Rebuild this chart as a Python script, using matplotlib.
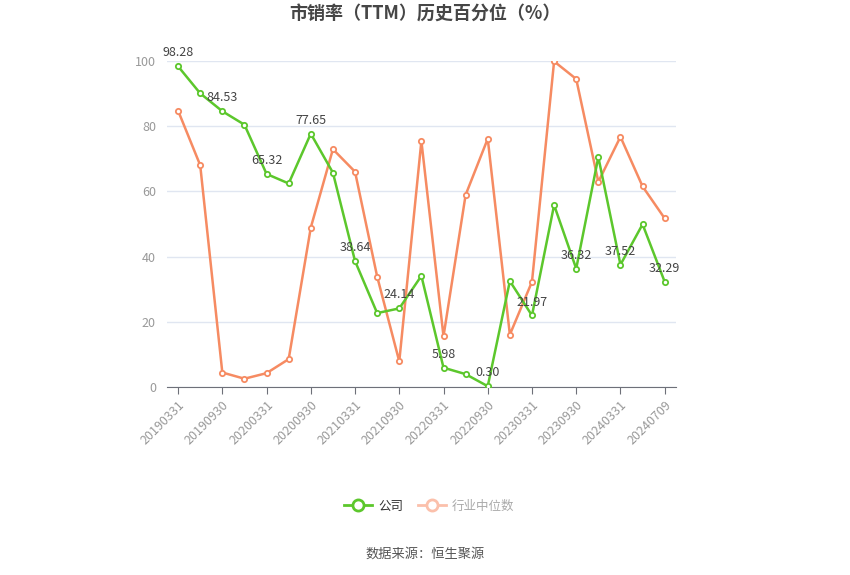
import matplotlib
matplotlib.use("Agg")
import matplotlib.pyplot as plt
from matplotlib.lines import Line2D

plt.rcParams['font.family'] = ['Noto Sans CJK SC', 'DejaVu Sans']

dates = ["20190331", "20190630", "20190930", "20191231", "20200331", "20200630",
         "20200930", "20201231", "20210331", "20210630", "20210930", "20211231",
         "20220331", "20220630", "20220930", "20221231", "20230331", "20230630",
         "20230930", "20231231", "20240331", "20240630", "20240709"]
company = [98.28, 90.0, 84.53, 80.4, 65.32, 62.4, 77.65, 65.7, 38.64, 22.7, 24.14, 34.1,
           5.98, 4.0, 0.30, 32.5, 21.97, 55.8, 36.32, 70.5, 37.52, 49.9, 32.29]
industry = [84.7, 68.0, 4.5, 2.6, 4.3, 8.6, 48.9, 72.9, 66.0, 33.9, 7.9, 75.4,
            15.6, 58.9, 76.1, 16.1, 32.3, 99.8, 94.4, 62.9, 76.7, 61.5, 51.7]
yticks = [0, 20, 40, 60, 80, 100]

green = '#5cc72c'
orange = '#f68b62'

fig = plt.figure(figsize=(8.5, 5.75), dpi=100)
ax = fig.add_axes([0.1965, 0.3266, 0.5985, 0.5678])
x = list(range(len(dates)))

ax.plot(x, industry, color=orange, lw=1.8, marker='o', ms=3.8, mfc='white',
        mec=orange, mew=1.3, zorder=3)
ax.plot(x, company, color=green, lw=1.8, marker='o', ms=3.8, mfc='white',
        mec=green, mew=1.3, zorder=4)

for i in range(0, len(dates), 2):
    ax.annotate(f"{company[i]:.2f}", (i, company[i]), xytext=(0, 5),
                textcoords='offset points', ha='center', va='bottom',
                fontsize=9, color='#444444', zorder=5)

ax.set_xlim(-0.5, len(dates) - 0.5)
ax.set_ylim(0, 100)
ax.set_yticks(yticks)
ax.set_yticklabels([str(v) for v in yticks], fontsize=9, color='#999999')
ax.set_xticks(x[::2])
ax.set_xticklabels(dates[::2], rotation=45, ha='right', rotation_mode='anchor',
                   fontsize=9, color='#999999')
ax.tick_params(axis='y', length=0, pad=8)
ax.tick_params(axis='x', length=5, color='#6e7079', pad=3)
ax.grid(axis='y', color='#e0e6f1', lw=1)
ax.set_axisbelow(True)
for s in ['top', 'right', 'left']:
    ax.spines[s].set_visible(False)
ax.spines['bottom'].set_color('#6e7079')

fig.text(0.5, 1 - 14 / 575, "市销率（TTM）历史百分位（%）", ha='center', va='center',
         fontsize=13, fontweight='bold', color='#464646')

handles = [Line2D([0], [0], color=green, lw=2, marker='o', ms=8, mfc='white', mec=green, mew=2),
           Line2D([0], [0], color='#fbc0ab', lw=2, marker='o', ms=8, mfc='white', mec='#fbc0ab', mew=2)]
leg = fig.legend(handles, ["公司", "行业中位数"], loc='center', bbox_to_anchor=(0.505, 1 - 506 / 575),
                 ncol=2, frameon=False, fontsize=9, handlelength=2.2, columnspacing=1.2,
                 handletextpad=0.5)
leg.get_texts()[0].set_color('#333333')
leg.get_texts()[1].set_color('#aaaaaa')

fig.text(0.5, 1 - 554 / 575, "数据来源：恒生聚源", ha='center', va='center',
         fontsize=9.5, color='#555555')

fig.savefig("out.png", dpi=100)
